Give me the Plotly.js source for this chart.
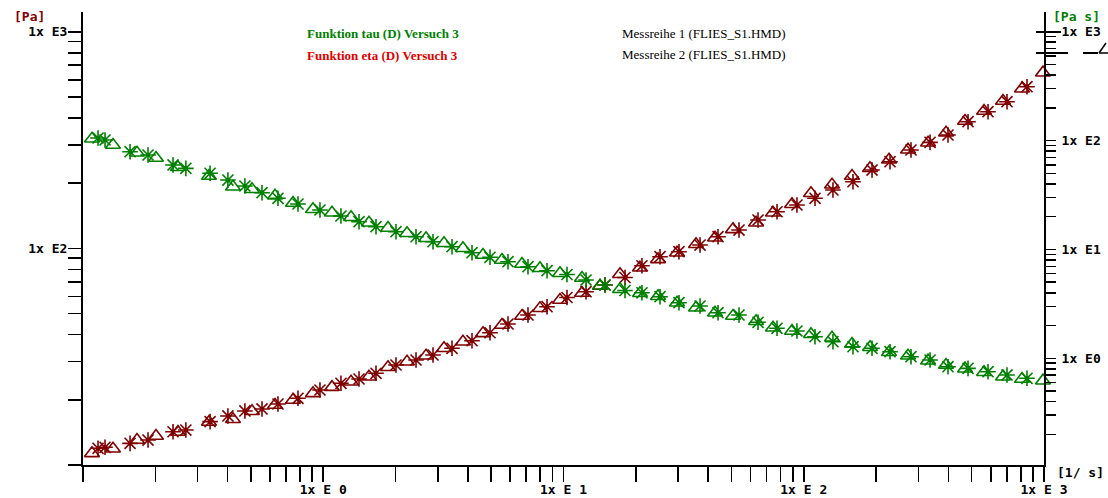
<!DOCTYPE html>
<html>
<head>
<meta charset="utf-8">
<script src="https://cdn.plot.ly/plotly-3.0.1.min.js"></script>
<style>
html,body{margin:0;padding:0;background:#fff;}
#chart{width:1108px;height:498px;}
</style>
</head>
<body>
<div id="chart"></div>
<script>
// ---- Data ----
// Messreihe 1 (asterisk markers)
const shearRate1 = [0.1155, 0.1235, 0.157, 0.1865, 0.237, 0.268, 0.338, 0.401, 0.472, 0.556,
  0.648, 0.785, 0.969, 1.185, 1.409, 1.658, 2.008, 2.433, 2.863, 3.435,
  4.161, 4.944, 5.875, 7.116, 8.54, 10.34, 12.41, 14.89, 18.03, 21.21,
  25.22, 30.25, 37.01, 43.97, 53.77, 64.52, 77.4, 93.7, 111.4, 132.3,
  160.3, 192.4, 228.6, 279.5, 335.5, 398.5, 482.8, 584.8, 701.5, 849.6];
const tau1 = [11.94, 12.07, 12.59, 13.04, 14.24, 14.5, 15.85, 16.84, 17.76, 18.14,
  19.12, 20.32, 22.19, 23.83, 24.95, 26.5, 28.94, 30.52, 32.2, 34.57,
  37.47, 40.79, 44.76, 49.25, 53.79, 59.32, 63.08, 67.74, 73.36, 83.09,
  91.5, 96.5, 103.6, 113.2, 121.5, 135.2, 147.6, 158.5, 170.2, 185.9,
  203.0, 229.9, 251.2, 284.4, 308.6, 333.7, 384.2, 427.3, 475.3, 557.5];
const eta1 = [105.6, 101.2, 79.0, 73.7, 59.7, 55.6, 50.05, 43.4, 38.24, 33.2,
  29.5, 26.15, 23.03, 20.28, 17.98, 16.17, 14.55, 13.09, 11.78, 10.6,
  9.33, 8.47, 7.72, 6.94, 6.38, 5.886, 5.24, 4.713, 4.196, 3.997,
  3.681, 3.242, 3.023, 2.624, 2.499, 2.141, 1.886, 1.782, 1.579, 1.421,
  1.278, 1.236, 1.15, 1.035, 0.965, 0.837, 0.809, 0.753, 0.703, 0.655];

// Messreihe 2 (triangle markers)
const shearRate2 = [0.109, 0.1333, 0.1678, 0.2013, 0.2485, 0.3345, 0.421, 0.5051, 0.6296, 0.7484,
  0.9063, 1.087, 1.305, 1.55, 1.86, 2.232, 2.678, 3.181, 3.816, 4.623,
  5.546, 6.72, 7.983, 9.67, 11.94, 14.19, 17.19, 20.81, 24.74, 29.68,
  35.61, 42.72, 50.76, 63.3, 74.47, 89.35, 107.2, 131.1, 158.8, 188.7,
  226.4, 271.6, 329.1, 391.0, 469.1, 562.8, 675.0, 809.8, 990.4];
const tau2 = [11.32, 11.89, 13.04, 13.61, 14.2, 15.79, 16.25, 17.7, 18.92, 19.95,
  21.42, 22.87, 24.24, 25.56, 28.25, 29.98, 31.95, 34.57, 37.08, 40.53,
  44.29, 48.72, 52.88, 57.75, 62.21, 67.03, 75.9, 81.41, 88.99, 95.48,
  104.4, 112.0, 122.4, 131.3, 146.1, 159.7, 179.5, 196.7, 215.8, 234.2,
  256.6, 285.3, 307.4, 341.8, 387.0, 430.5, 478.7, 545.8, 647.0];
const eta2 = [104.0, 91.06, 77.38, 69.17, 56.83, 47.26, 37.69, 35.68, 31.16, 26.71,
  23.37, 21.75, 19.73, 17.6, 15.74, 14.07, 12.66, 11.39, 10.24, 8.889,
  8.0, 7.347, 6.711, 6.036, 5.465, 4.634, 4.304, 3.955, 3.711, 3.242,
  2.916, 2.624, 2.447, 2.187, 1.91, 1.781, 1.661, 1.546, 1.353, 1.262,
  1.136, 1.057, 0.951, 0.868, 0.803, 0.744, 0.678, 0.645, 0.623];

// Tick labels
const xMajorVals = [1, 10, 100, 1000];
const xMajorText = ['1x E 0', '1x E 1', '1x E 2', '1x E 3'];
const yLeftMajorVals = [100, 1000];
const yLeftMajorText = ['1x E2', '1x E3'];
const yRightMajorVals = [1, 10, 100, 1000];
const yRightMajorText = ['1x E0', '1x E1', '1x E2', '1x E3'];

// Legend / unit texts
const seriesNames = ['Funktion tau (D) Versuch 3', 'Funktion eta (D) Versuch 3'];
const runNames = ['Messreihe 1 (FLIES_S1.HMD)', 'Messreihe 2 (FLIES_S1.HMD)'];
const unitLeft = '[Pa]';
const unitRight = '[Pa s]';
const unitX = '[1/ s]';

// ---- Styling ----
const GREEN = '#008000';
const DRED = '#800000';
const LEGRED = '#e00000';
const TICKFONT = {family: 'DejaVu Sans Mono', size: 13, weight: 'bold', color: '#000'};

function logTicks(fromExp, toExp, majorVals, majorText) {
  const vals = [], text = [];
  for (let e = fromExp; e <= toExp; e++) {
    for (let m = 1; m <= 9; m++) {
      if (e === toExp && m > 1) break;
      const v = m * Math.pow(10, e);
      vals.push(v);
      let t = '';
      for (let i = 0; i < majorVals.length; i++) {
        if (Math.abs(majorVals[i] - v) < 1e-9 * majorVals[i]) t = majorText[i];
      }
      text.push(t);
    }
  }
  return {vals, text};
}

const xt = logTicks(-1, 3, xMajorVals, xMajorText);
const ylt = logTicks(1, 3, yLeftMajorVals, yLeftMajorText);
const yrt = logTicks(-1, 3, yRightMajorVals, yRightMajorText);

function star(x, y, color, ax) {
  return {x, y, yaxis: ax, type: 'scatter', mode: 'markers', cliponaxis: false, hoverinfo: 'skip',
    marker: {symbol: 'asterisk-open', size: 13, color, line: {color, width: 1.6}}};
}
function dot(x, y, color, ax) {
  return {x, y, yaxis: ax, type: 'scatter', mode: 'markers', cliponaxis: false, hoverinfo: 'skip',
    marker: {symbol: 'circle', size: 4.5, color, line: {width: 0}}};
}
function tri(x, y, color, ax) {
  return {x, y, yaxis: ax, type: 'scatter', mode: 'markers', cliponaxis: false, hoverinfo: 'skip',
    marker: {symbol: 'triangle-up-open', size: 13, color, line: {color, width: 1.6}}};
}

const traces = [
  star(shearRate1, eta1, GREEN, 'y2'), dot(shearRate1, eta1, GREEN, 'y2'),
  tri(shearRate2, eta2, GREEN, 'y2'),
  star(shearRate1, tau1, DRED, 'y'), dot(shearRate1, tau1, DRED, 'y'),
  tri(shearRate2, tau2, DRED, 'y')
];

// pixel -> paper helpers for texts/decorations
const L = 83, R = 1044, T = 12, B = 465;
const px = v => (v - L) / (R - L);
const py = v => (B - v) / (B - T);

function txt(text, x, y, font, xanchor) {
  return {text, x: px(x), y: py(y), xref: 'paper', yref: 'paper', showarrow: false,
    xanchor: xanchor || 'left', yanchor: 'middle', font};
}

const serif = (color, bold) => ({family: 'Liberation Serif', size: 13, color, weight: bold ? 'bold' : 'normal'});

const annotations = [
  txt(seriesNames[0], 305, 33, serif(GREEN, true)),
  txt(seriesNames[1], 305, 55, serif(LEGRED, true)),
  txt(runNames[0], 620, 33, serif('#000', false)),
  txt(runNames[1], 620, 54, serif('#000', false)),
  txt(unitLeft, 29, 17, Object.assign({}, TICKFONT, {color: DRED}), 'center'),
  txt(unitRight, 1076, 17, Object.assign({}, TICKFONT, {color: GREEN}), 'center'),
  txt(unitX, 1080, 472, TICKFONT, 'center')
];

function seg(x0, y0, x1, y1, w) {
  return {type: 'line', xref: 'paper', yref: 'paper', x0: px(x0), y0: py(y0), x1: px(x1), y1: py(y1),
    line: {color: '#000', width: w || 2}, layer: 'above'};
}
const shapes = [
  seg(1036, 32, 1061, 32, 2),
  seg(1036, 53, 1068, 53, 2),
  seg(1083, 53, 1098, 53, 2),
  seg(1099, 53, 1108, 53, 1.5),
  seg(1099, 53, 1106, 43, 1.5)
];

const axisBase = {
  type: 'log', showline: true, linecolor: '#000', linewidth: 2,
  ticks: 'outside', tickcolor: '#000', tickwidth: 1.6,
  tickmode: 'array', tickfont: TICKFONT, showgrid: false, zeroline: false,
  automargin: false, fixedrange: true
};

const layout = {
  width: 1108, height: 498,
  margin: {l: L, r: 1108 - R, t: T, b: 498 - B, pad: 0},
  paper_bgcolor: '#fff', plot_bgcolor: '#fff',
  showlegend: false,
  xaxis: Object.assign({}, axisBase, {range: [-1, 3], ticklen: 15, tickvals: xt.vals, ticktext: xt.text,
    ticklabelstandoff: -4}),
  yaxis: Object.assign({}, axisBase, {range: [1, 3.091], ticklen: 13, side: 'left', tickvals: ylt.vals, ticktext: ylt.text,
    ticklabelstandoff: -2}),
  yaxis2: Object.assign({}, axisBase, {range: [-0.98, 3.181], ticklen: 10, side: 'right', overlaying: 'y', anchor: 'x',
    tickvals: yrt.vals, ticktext: yrt.text, ticklabelstandoff: 3}),
  annotations, shapes
};

Plotly.newPlot('chart', traces, layout, {displayModeBar: false, staticPlot: true});
</script>
</body>
</html>
